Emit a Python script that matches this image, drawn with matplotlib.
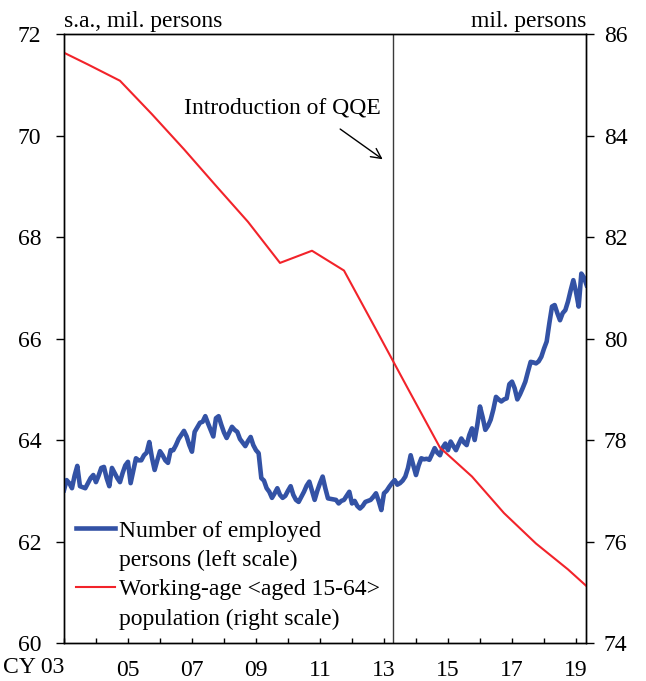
import numpy as np
import matplotlib
matplotlib.use('Agg')
import matplotlib.pyplot as plt
from matplotlib.lines import Line2D
import matplotlib.transforms as mtransforms

plt.rcParams['font.family'] = 'Liberation Serif'
plt.rcParams['font.size'] = 17

# Occupati (destag., milioni), mensile da gen 2003
emp = [63.01, 63.21, 63.15, 63.05, 63.30, 63.49, 63.09, 63.07, 63.05, 63.15, 63.25, 63.31,
       63.17, 63.30, 63.45, 63.47, 63.25, 63.09, 63.45, 63.35, 63.25, 63.17, 63.35, 63.50,
       63.57, 63.15, 63.40, 63.64, 63.60, 63.60, 63.70, 63.75, 63.96, 63.65, 63.41, 63.60,
       63.78, 63.70, 63.60, 63.55, 63.80, 63.80, 63.90, 64.02, 64.10, 64.18, 64.07, 63.90,
       63.77, 64.16, 64.25, 64.34, 64.36, 64.47, 64.33, 64.20, 64.07, 64.43, 64.47, 64.30,
       64.15, 64.04, 64.15, 64.26, 64.20, 64.16, 64.02, 63.95, 63.88, 63.98, 64.06, 63.90,
       63.80, 63.74, 63.25, 63.20, 63.05, 62.98, 62.86, 62.95, 63.05, 62.92, 62.86, 62.90,
       63.00, 63.09, 62.92, 62.82, 62.78, 62.88, 62.98, 63.10, 63.18, 63.00, 62.82, 63.00,
       63.15, 63.28, 63.05, 62.85, 62.84, 62.83, 62.82, 62.75, 62.80, 62.82, 62.90, 62.98,
       62.75, 62.80, 62.70, 62.65, 62.70, 62.78, 62.80, 62.82, 62.88, 62.95, 62.80, 62.62,
       62.95, 63.00, 63.08, 63.15, 63.21, 63.12, 63.15, 63.20, 63.28, 63.45, 63.70, 63.50,
       63.31, 63.50, 63.64, 63.62, 63.63, 63.61, 63.72, 63.84, 63.75, 63.70, 63.85, 63.93,
       63.80, 63.97, 63.88, 63.80, 63.92, 64.03, 63.95, 63.90, 64.10, 64.23, 64.00, 64.30,
       64.66, 64.45, 64.20, 64.28, 64.40, 64.60, 64.85, 64.80, 64.76, 64.80, 64.82, 65.10,
       65.15, 65.02, 64.80, 64.90, 65.02, 65.15, 65.35, 65.54, 65.53, 65.51, 65.55, 65.64,
       65.80, 65.94, 66.30, 66.63, 66.66, 66.50, 66.36, 66.50, 66.56, 66.73, 66.95, 67.15,
       66.92, 66.63, 67.28, 67.20, 67.05]
t_emp = 2003 + np.arange(len(emp)) / 12

# Popolazione 15-64 (milioni), dati di ottobre
pop_year = [2002.75, 2003.75, 2004.75, 2005.75, 2006.75, 2007.75, 2008.75, 2009.75, 2010.75,
            2011.75, 2012.75, 2013.75, 2014.75, 2015.75, 2016.75, 2017.75, 2018.75, 2019.33]
pop = [85.71, 85.40, 85.08, 84.42, 83.73, 83.01, 82.30, 81.49, 81.73,
       81.34, 80.18, 79.01, 77.85, 77.28, 76.56, 75.96, 75.45, 75.12]

qqe = 2013.28
years = np.arange(2003, 2020)
year_labels = ['' if (y % 2 == 0 or y == 2003) else '%02d' % (y % 100) for y in years]

fig = plt.figure(figsize=(6.46, 6.81), dpi=100)
ax = fig.add_axes([0.099, 0.0558, 0.808, 0.8942])
ax2 = ax.twinx()

ax.plot(t_emp, emp, color='#3352a5', lw=3.3, zorder=3)
ax2.plot(pop_year, pop, color='#f2232a', lw=1.5, zorder=2)
ax.axvline(qqe, color='#3a3a3a', lw=1.0, zorder=1)

ax.set_xlim(2003, 2019.31)
ax.set_ylim(60, 72)
ax2.set_ylim(74, 86)
ax.set_yticks(np.arange(60, 73, 2))
ax2.set_yticks(np.arange(74, 87, 2))
ax.set_xticks(years)
ax.set_xticklabels(year_labels)

ax.tick_params(axis='x', direction='in', length=3.6, width=1, pad=12)
ax.tick_params(axis='y', direction='out', length=5.8, width=1, pad=10.5)
ax2.tick_params(axis='y', direction='out', length=5.8, width=1, pad=7)
for a in (ax, ax2):
    for s in a.spines.values():
        s.set_linewidth(1.0)

# etichetta "CY 03"
trans = mtransforms.blended_transform_factory(ax.transData, ax.transAxes)
ax.text(2003.02, -0.041, 'CY 03', transform=trans, ha='right', va='center')

ax.text(0.0, 1.004, 's.a., mil. persons', transform=ax.transAxes, ha='left', va='bottom')
ax.text(1.0, 1.004, 'mil. persons', transform=ax.transAxes, ha='right', va='bottom')

# freccia QQE
ax.text(2009.84, 70.54, 'Introduction of QQE', ha='center', va='center')
ax.annotate('', xy=(2013.03, 69.50), xytext=(2011.56, 70.16),
            arrowprops=dict(arrowstyle='->', color='black', lw=1.0, mutation_scale=18))

# legenda
handles = [Line2D([], [], color='#3352a5', lw=3.3), Line2D([], [], color='none'),
           Line2D([], [], color='#f2232a', lw=1.5), Line2D([], [], color='none')]
labels = ['Number of employed', 'persons (left scale)',
          'Working-age <aged 15-64>', 'population (right scale)']
ax.legend(handles, labels, loc='lower left', bbox_to_anchor=(0.024, 0.022), frameon=False,
          borderpad=0, borderaxespad=0, handlelength=1.65, handletextpad=0.17,
          labelspacing=0.33)

fig.savefig('out.png', dpi=100)
